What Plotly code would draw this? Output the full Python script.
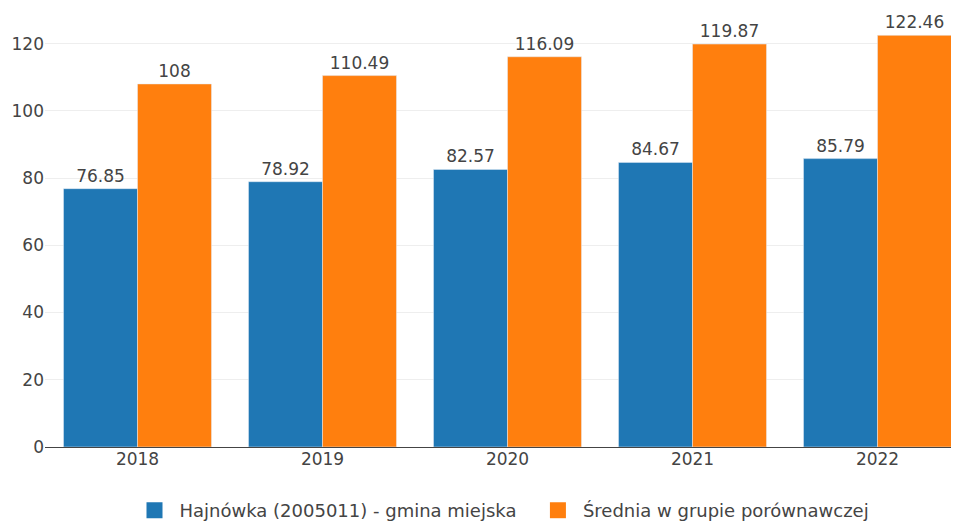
import plotly.graph_objects as go

years = ["2018", "2019", "2020", "2021", "2022"]
hajnowka = [76.85, 78.92, 82.57, 84.67, 85.79]
srednia = [108, 110.49, 116.09, 119.87, 122.46]
name_a = "Hajnówka (2005011) - gmina miejska"
name_b = "Średnia w grupie porównawczej"
color_a = "#1f77b4"
color_b = "#ff7f0e"

font = dict(family="Verdana, DejaVu Sans, sans-serif", size=17, color="#444")
legend_font = dict(family="Verdana, DejaVu Sans, sans-serif", size=18, color="#444")

fig = go.Figure()
fig.add_trace(go.Bar(x=years, y=hajnowka, name=name_a, marker_color=color_a,
                     text=[str(v) for v in hajnowka], textposition="outside",
                     textfont=font, cliponaxis=False, showlegend=False))
fig.add_trace(go.Bar(x=years, y=srednia, name=name_b, marker_color=color_b,
                     text=[str(v) for v in srednia], textposition="outside",
                     textfont=font, cliponaxis=False, showlegend=False))
# legend entries with larger square swatches
for nm, col in [(name_a, color_a), (name_b, color_b)]:
    fig.add_trace(go.Scatter(x=[None], y=[None], mode="markers", name=nm + "  ",
                             marker=dict(symbol="square", size=18, color=col)))

fig.update_layout(
    width=970, height=540,
    margin=dict(l=37, r=8, t=2, b=101),
    barmode="group", bargap=0.2, bargroupgap=0,
    font=font,
    plot_bgcolor="white", paper_bgcolor="white",
    legend=dict(orientation="h", x=0.5, xanchor="center", y=-0.103, yanchor="top",
                font=legend_font, itemwidth=40),
    xaxis=dict(type="category", showgrid=False, ticks="", tickfont=font),
    yaxis=dict(range=[0, 130], dtick=20, showgrid=True, gridcolor="#eee",
               zeroline=True, zerolinecolor="#444", zerolinewidth=1, tickfont=font),
)
fig.write_html("out.html")
